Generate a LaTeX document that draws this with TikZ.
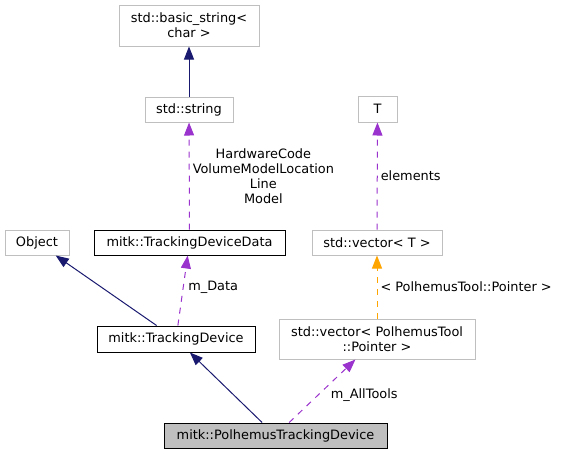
\documentclass[tikz,border=0pt]{standalone}
\usepackage{fontspec}
\setmainfont{DejaVu Sans}
\usetikzlibrary{arrows.meta}
\definecolor{edgeblue}{HTML}{191970}
\definecolor{edgepurple}{HTML}{9A32CD}
\definecolor{edgeorange}{HTML}{FFA500}
\definecolor{boxgray}{HTML}{BFBFBF}
\tikzset{
  cls/.style={draw=boxgray,line width=1pt,rectangle,inner sep=0pt,align=center,
    font=\fontsize{12.9}{15}\selectfont},
  doc/.style={cls,draw=black},
  inherit/.style={draw=edgeblue,line width=1pt,-{Triangle[length=13pt,width=10pt]}},
  member/.style={draw=edgepurple,line width=1pt,dash pattern=on 6pt off 6pt,
    -{Triangle[length=13pt,width=10pt]}},
  tmpl/.style={draw=edgeorange,line width=1pt,dash pattern=on 6pt off 6pt,
    -{Triangle[length=13pt,width=10pt]}},
  lbl/.style={font=\fontsize{12.9}{15}\selectfont,align=center,inner sep=3pt}
}
\begin{document}
\begin{tikzpicture}[x=1pt,y=-1pt]
      \useasboundingbox (0,0) rectangle (561,455);
      \node [cls,minimum width=140pt,minimum height=41pt] (bstr) at (189,25.5) {std::basic\_string<\\char >};
      \node [cls,minimum width=88pt,minimum height=25pt] (str) at (189,109.5) {std::string};
      \node [cls,minimum width=39pt,minimum height=26pt] (T) at (377.5,109) {T};
      \node [cls,minimum width=64pt,minimum height=25pt] (obj) at (37,242.5) {Object};
      \node [doc,minimum width=191pt,minimum height=25pt] (tdd) at (189.5,242.5) {mitk::TrackingDeviceData};
      \node [cls,minimum width=130pt,minimum height=25pt] (vecT) at (377,242.5) {std::vector< T >};
      \node [doc,minimum width=158pt,minimum height=26pt] (td) at (176,339) {mitk::TrackingDevice};
      \node [cls,minimum width=196pt,minimum height=40pt] (vecP) at (377,339) {std::vector< PolhemusTool\\::Pointer >};
      \node [doc,fill=boxgray,minimum width=223pt,minimum height=25pt] (ptd) at (275.5,435.5) {mitk::PolhemusTrackingDevice};

      \draw[inherit] (str) -- (bstr);
      \draw[member] (tdd) -- node[lbl,right] {HardwareCode\\VolumeModelLocation\\Line\\Model} (str);
      \draw[member] (vecT) -- node[lbl,right] {elements} (T);
      \draw[inherit] (td) -- (obj);
      \draw[member] (td) -- node[lbl,right,xshift=2pt,yshift=3pt] {m\_Data} (tdd);
      \draw[tmpl] (vecP) -- node[lbl,right] {< PolhemusTool::Pointer >} (vecT);
      \draw[inherit] (ptd) -- (td);
      \draw[member] (ptd) -- node[lbl,right,xshift=5pt,yshift=-4pt] {m\_AllTools} (vecP);
    \end{tikzpicture}
\end{document}
